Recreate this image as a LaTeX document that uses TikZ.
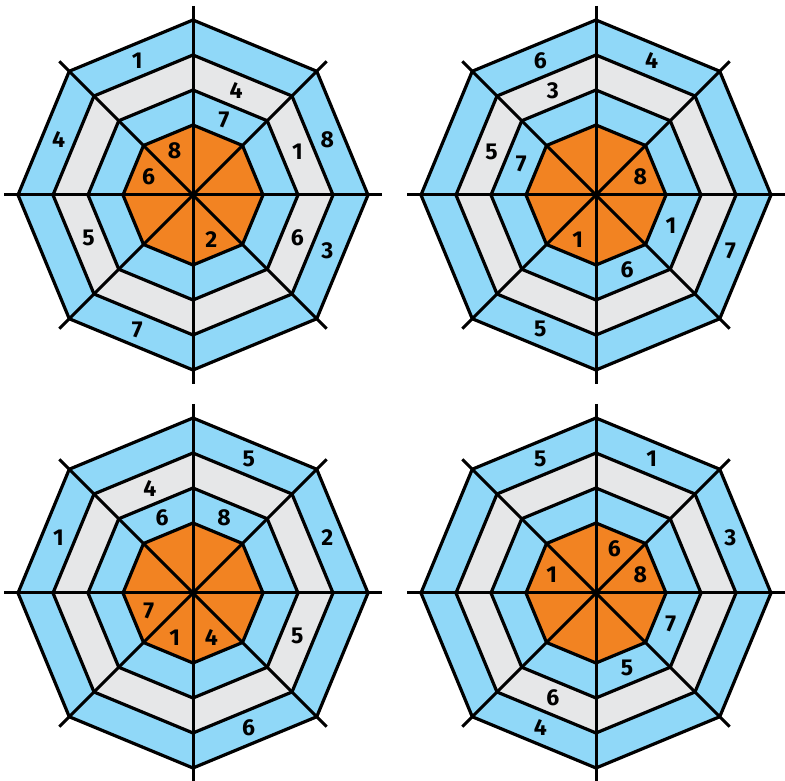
\documentclass[tikz,border=0pt]{standalone}
\usepackage{fontspec}
\setmainfont{Fira Sans}
\usepackage{xcolor}

\definecolor{ringblue}{RGB}{144,216,248}
\definecolor{ringgrey}{RGB}{230,231,232}
\definecolor{coreorange}{RGB}{242,131,34}

\tikzset{
  ring/.style={draw=black, line width=3.2pt, line join=miter},
  spoke/.style={black, line width=3pt},
  num/.style={font=\fontsize{23}{23}\selectfont\bfseries, inner sep=0pt},
}

\begin{document}
\begin{tikzpicture}[x=1pt, y=1pt]
\fill[white] (0,0) rectangle (785,780);
\useasboundingbox (0,0) rectangle (785,780);

% Four octagonal boards: rings from outside in, then the spokes
\foreach \bx/\by in {193/585, 596/585, 193/187, 596/187}{
  \begin{scope}[shift={(\bx,\by)}]
    \foreach \rr/\col in {175/ringblue, 140/ringgrey, 105/ringblue, 70/coreorange}
      \filldraw[ring, fill=\col] (0:\rr) \foreach \a in {45,90,...,315}{ -- (\a:\rr)} -- cycle;
    \foreach \a in {0,45,90,135}
      \draw[spoke] (\a:189) -- (\a+180:189);
  \end{scope}
}

% Numbers: ring (1 = centre ... 4 = outer) / sector (1 = first past east, anticlockwise) / text
\begin{scope}[shift={(193,585)}]
  \foreach \r/\s/\t in {4/3/1, 4/4/4, 4/1/8, 4/8/3, 4/6/7, 3/2/4, 3/1/1, 3/8/6, 3/5/5, 2/2/7, 1/3/8, 1/4/6, 1/7/2}{
    \pgfmathsetmacro{\d}{{48,81,113,145.5}[\r-1]}
    \node[num] (a\r\s) at ({45*\s-22.5}:\d) {\t};
  }
\end{scope}
\begin{scope}[shift={(596,585)}]
  \foreach \r/\s/\t in {4/3/6, 4/2/4, 4/8/7, 4/6/5, 3/3/3, 3/4/5, 2/4/7, 2/8/1, 2/7/6, 1/1/8, 1/6/1}{
    \pgfmathsetmacro{\d}{{48,81,113,145.5}[\r-1]}
    \node[num] (b\r\s) at ({45*\s-22.5}:\d) {\t};
  }
\end{scope}
\begin{scope}[shift={(193,187)}]
  \foreach \r/\s/\t in {4/2/5, 4/4/1, 4/1/2, 4/7/6, 3/3/4, 3/8/5, 2/3/6, 2/2/8, 1/5/7, 1/6/1, 1/7/4}{
    \pgfmathsetmacro{\d}{{48,81,113,145.5}[\r-1]}
    \node[num] (c\r\s) at ({45*\s-22.5}:\d) {\t};
  }
\end{scope}
\begin{scope}[shift={(596,187)}]
  \foreach \r/\s/\t in {4/3/5, 4/2/1, 4/1/3, 4/6/4, 3/6/6, 2/8/7, 2/7/5, 1/2/6, 1/1/8, 1/4/1}{
    \pgfmathsetmacro{\d}{{48,81,113,145.5}[\r-1]}
    \node[num] (d\r\s) at ({45*\s-22.5}:\d) {\t};
  }
\end{scope}
\end{tikzpicture}
\end{document}
